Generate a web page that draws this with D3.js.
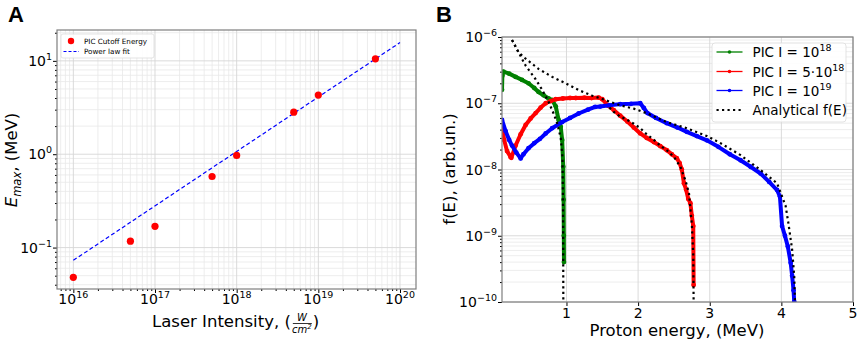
<!DOCTYPE html>
<html>
<head>
<meta charset="utf-8">
<script src="https://cdn.jsdelivr.net/npm/d3@7"></script>
<style>
  body { margin: 0; background: #fff; }
  svg { font-family: "DejaVu Sans", sans-serif; }
</style>
</head>
<body>
<svg id="chart" width="858" height="341"></svg>
<script>
// ---- panel A data ----
const intensity = [1e16, 5e16, 1e17, 5e17, 1e18, 5e18, 1e19, 5e19];
const emax = [0.048, 0.117, 0.169, 0.577, 0.97, 2.82, 4.3, 10.5];
const fitX = [1e16, 1e20];
const fitY = [0.073, 15.7];
const aXTicks = [16, 17, 18, 19, 20];
const aYTicks = [-1, 0, 1];

// ---- panel B data ----
const greenE = [0.10, 0.105, 0.12, 0.20, 0.29, 0.38, 0.47, 0.55, 0.61, 0.68, 0.75, 0.80, 0.85, 0.89, 0.92, 0.94, 0.955, 0.96, 0.963, 0.965];
const greenF = [1.6e-7, 2.6e-7, 3.0e-7, 2.8e-7, 2.5e-7, 2.25e-7, 2.0e-7, 1.7e-7, 1.48e-7, 1.32e-7, 1.18e-7, 1.12e-7, 9.0e-8, 5.6e-8, 4.4e-8, 2.8e-8, 1.1e-8, 3.5e-9, 1.0e-9, 4.0e-10];

const redE = [0.10, 0.13, 0.17, 0.22, 0.23, 0.29, 0.36, 0.43, 0.50, 0.57, 0.64, 0.71, 0.78, 0.85, 0.95, 1.05, 1.13, 1.25, 1.35, 1.45, 1.50, 1.58, 1.66, 1.75, 1.85, 1.94, 2.03, 2.12, 2.22, 2.31, 2.40, 2.47, 2.54, 2.58, 2.61, 2.64, 2.67, 2.70, 2.73, 2.75, 2.77, 2.775];
const redF = [4.4e-8, 2.8e-8, 1.9e-8, 1.55e-8, 1.5e-8, 2.3e-8, 3.4e-8, 4.7e-8, 5.9e-8, 7.1e-8, 8.6e-8, 1.0e-7, 1.08e-7, 1.15e-7, 1.18e-7, 1.2e-7, 1.2e-7, 1.21e-7, 1.2e-7, 1.22e-7, 1.15e-7, 9.2e-8, 7.9e-8, 6.5e-8, 5.3e-8, 4.3e-8, 3.5e-8, 3.0e-8, 2.6e-8, 2.25e-8, 1.96e-8, 1.7e-8, 1.48e-8, 1.25e-8, 1.0e-8, 6.2e-9, 5.0e-9, 3.6e-9, 3.1e-9, 2.0e-9, 1.4e-9, 1.8e-10];

const blueE = [0.10, 0.15, 0.20, 0.24, 0.30, 0.36, 0.40, 0.47, 0.55, 0.63, 0.71, 0.80, 0.94, 1.05, 1.17, 1.30, 1.40, 1.47, 1.60, 1.75, 1.90, 2.03, 2.08, 2.13, 2.25, 2.40, 2.55, 2.68, 2.82, 2.96, 3.12, 3.28, 3.43, 3.57, 3.71, 3.83, 3.94, 3.98, 4.01, 4.05, 4.09, 4.13, 4.15, 4.17, 4.18];
const blueF = [5.6e-8, 3.8e-8, 2.8e-8, 2.3e-8, 1.8e-8, 1.47e-8, 1.7e-8, 2.1e-8, 2.5e-8, 2.9e-8, 3.5e-8, 4.2e-8, 5.2e-8, 6.0e-8, 7.0e-8, 8.0e-8, 8.8e-8, 8.9e-8, 9.3e-8, 9.7e-8, 9.8e-8, 1.0e-7, 8.5e-8, 7.1e-8, 6.0e-8, 5.0e-8, 4.3e-8, 3.7e-8, 3.2e-8, 2.76e-8, 2.2e-8, 1.7e-8, 1.38e-8, 1.1e-8, 8.7e-9, 6.5e-9, 4.9e-9, 3.9e-9, 1.4e-9, 1.0e-9, 6.9e-10, 3.9e-10, 2.5e-10, 1.5e-10, 1.0e-10];

const anaE1 = [0.24, 0.33, 0.43, 0.57, 0.66, 0.75, 0.82, 0.87, 0.92, 0.945, 0.952, 0.955, 0.956];
const anaF1 = [9.0e-7, 5.9e-7, 3.7e-7, 2.3e-7, 1.6e-7, 1.05e-7, 7.0e-8, 5.0e-8, 3.0e-8, 1.5e-8, 3e-9, 3e-10, 1e-10];
const anaE2 = [1.60, 1.66, 1.75, 1.85, 1.94, 2.03, 2.12, 2.22, 2.31, 2.40, 2.50, 2.59, 2.66, 2.71, 2.75, 2.77, 2.775];
const anaF2 = [8.6e-8, 7.4e-8, 6.3e-8, 5.6e-8, 4.9e-8, 4.2e-8, 3.4e-8, 2.8e-8, 2.3e-8, 1.95e-8, 1.55e-8, 1.1e-8, 6.9e-9, 4.4e-9, 1.5e-9, 5e-10, 1e-10];
const anaE3 = [0.24, 0.33, 0.43, 0.61, 0.80, 0.99, 1.17, 1.36, 1.54, 1.61, 1.75, 1.94, 2.13, 2.40, 2.68, 2.96, 3.15, 3.43, 3.71, 3.94, 4.06, 4.10, 4.15, 4.18, 4.19];
const anaF3 = [9.0e-7, 5.9e-7, 4.7e-7, 3.3e-7, 2.5e-7, 2.0e-7, 1.58e-7, 1.3e-7, 1.12e-7, 1.05e-7, 9.3e-8, 8.3e-8, 7.0e-8, 5.2e-8, 4.2e-8, 3.2e-8, 2.5e-8, 1.65e-8, 9.8e-9, 6.2e-9, 2.8e-9, 1.5e-9, 6.2e-10, 2.4e-10, 1e-10];

const bXTicks = [1, 2, 3, 4, 5];
const bYTicks = [-10, -9, -8, -7, -6];

const svg = d3.select("#chart");
const gridMajor = "#d6d6d6";
const gridMinor = "#e8e8e8";

function minorLogs(lo, hi){
    const out = [];
    for (let e = Math.floor(Math.log10(lo)) - 1; e <= Math.ceil(Math.log10(hi)); e++){
        for (let m = 2; m <= 9; m++){
            const v = m * Math.pow(10, e);
            if (v >= lo && v <= hi) out.push(v);
        }
    }
    return out;
}

function supLabel(g, x, y, exp, anchor){
    const t = g.append("text")
        .attr("x", x).attr("y", y)
        .attr("text-anchor", anchor)
        .attr("font-size", 14)
        .attr("fill", "#000");
    t.append("tspan").text("10");
    t.append("tspan").attr("font-size", 9.5).attr("dy", -6).text(exp < 0 ? "\u2212" + (-exp) : exp);
    return t;
}

// ================= Panel A =================
const A = {l: 57, r: 416, t: 30, b: 289};
const ax = d3.scaleLog([Math.pow(10, 15.8), Math.pow(10, 20.196)], [A.l, A.r]);
const ay = d3.scaleLog([0.036, 21.4], [A.b, A.t]);
const gA = svg.append("g");

gA.append("defs").append("clipPath").attr("id", "clipA")
    .append("rect").attr("x", A.l).attr("y", A.t).attr("width", A.r - A.l).attr("height", A.b - A.t);

const aXMinor = minorLogs(ax.domain()[0], ax.domain()[1]);
const aYMinor = minorLogs(ay.domain()[0], ay.domain()[1]);
const aXMajor = aXTicks.map(e => Math.pow(10, e));
const aYMajor = aYTicks.map(e => Math.pow(10, e));

gA.selectAll(".gxm").data(aXMinor).enter().append("line")
    .attr("x1", d => ax(d)).attr("x2", d => ax(d)).attr("y1", A.t).attr("y2", A.b)
    .attr("stroke", gridMinor).attr("stroke-width", 0.8);
gA.selectAll(".gym").data(aYMinor).enter().append("line")
    .attr("y1", d => ay(d)).attr("y2", d => ay(d)).attr("x1", A.l).attr("x2", A.r)
    .attr("stroke", gridMinor).attr("stroke-width", 0.8);
gA.selectAll(".gxM").data(aXMajor).enter().append("line")
    .attr("x1", d => ax(d)).attr("x2", d => ax(d)).attr("y1", A.t).attr("y2", A.b)
    .attr("stroke", gridMajor).attr("stroke-width", 0.9);
gA.selectAll(".gyM").data(aYMajor).enter().append("line")
    .attr("y1", d => ay(d)).attr("y2", d => ay(d)).attr("x1", A.l).attr("x2", A.r)
    .attr("stroke", gridMajor).attr("stroke-width", 0.9);

// axes ticks
gA.append("g").attr("transform", `translate(0,${A.b})`)
    .call(d3.axisBottom(ax).tickValues(aXMajor).tickFormat("").tickSize(4).tickSizeOuter(0))
    .call(g => g.select(".domain").remove());
gA.append("g").attr("transform", `translate(0,${A.b})`)
    .call(d3.axisBottom(ax).tickValues(aXMinor).tickFormat("").tickSize(2).tickSizeOuter(0))
    .call(g => g.select(".domain").remove());
gA.append("g").attr("transform", `translate(${A.l},0)`)
    .call(d3.axisLeft(ay).tickValues(aYMajor).tickFormat("").tickSize(4).tickSizeOuter(0))
    .call(g => g.select(".domain").remove());
gA.append("g").attr("transform", `translate(${A.l},0)`)
    .call(d3.axisLeft(ay).tickValues(aYMinor).tickFormat("").tickSize(2).tickSizeOuter(0))
    .call(g => g.select(".domain").remove());

aXTicks.forEach(e => supLabel(gA, ax(Math.pow(10, e)), 304, e, "middle"));
aYTicks.forEach(e => supLabel(gA, A.l - 5, ay(Math.pow(10, e)) + 5, e, "end"));

// fit line
gA.append("path")
    .datum(fitX.map((x, i) => ({x, y: fitY[i]})))
    .attr("d", d3.line().x(d => ax(d.x)).y(d => ay(d.y)))
    .attr("fill", "none").attr("stroke", "#0000ff").attr("stroke-width", 1.2)
    .attr("stroke-dasharray", "4,2.5");

gA.selectAll(".pt").data(intensity).enter().append("circle")
    .attr("cx", d => ax(d)).attr("cy", (d, i) => ay(emax[i]))
    .attr("r", 3.6).attr("fill", "#ff0000");

gA.append("rect").attr("x", A.l).attr("y", A.t).attr("width", A.r - A.l).attr("height", A.b - A.t)
    .attr("fill", "none").attr("stroke", "#7f7f7f").attr("stroke-width", 1.2);

// legend A
const lgA = gA.append("g");
lgA.append("rect").attr("x", 61).attr("y", 34).attr("width", 93).attr("height", 24).attr("rx", 2)
    .attr("fill", "#fff").attr("fill-opacity", 0.85).attr("stroke", "#dcdcdc").attr("stroke-width", 0.8);
lgA.append("circle").attr("cx", 71).attr("cy", 41).attr("r", 3.2).attr("fill", "#ff0000");
lgA.append("text").attr("x", 84).attr("y", 43.5).attr("font-size", 7.2).text("PIC Cutoff Energy");
lgA.append("line").attr("x1", 63.5).attr("x2", 79).attr("y1", 51.5).attr("y2", 51.5)
    .attr("stroke", "#0000ff").attr("stroke-width", 1.2).attr("stroke-dasharray", "3,2");
lgA.append("text").attr("x", 84).attr("y", 54).attr("font-size", 7.2).text("Power law fit");

// axis labels A
const ylA = gA.append("text").attr("transform", "translate(17,160) rotate(-90)")
    .attr("text-anchor", "middle").attr("font-size", 16.5);
ylA.append("tspan").attr("font-style", "italic").text("E");
ylA.append("tspan").attr("font-style", "italic").attr("font-size", 11.5).attr("dy", 4).text("max");
ylA.append("tspan").attr("dy", -4).text(", (MeV)");

const xlA = gA.append("text").attr("x", 152).attr("y", 327).attr("font-size", 16.5).text("Laser Intensity, (");
const xlW = xlA.node().getComputedTextLength();
const fx = 152 + xlW + 1;
gA.append("text").attr("x", fx + 10).attr("y", 321).attr("text-anchor", "middle")
    .attr("font-size", 10).attr("font-style", "italic").text("W");
gA.append("line").attr("x1", fx + 1).attr("x2", fx + 20).attr("y1", 323.5).attr("y2", 323.5)
    .attr("stroke", "#000").attr("stroke-width", 0.8);
const cmT = gA.append("text").attr("x", fx + 10).attr("y", 333).attr("text-anchor", "middle")
    .attr("font-size", 10).attr("font-style", "italic");
cmT.append("tspan").text("cm");
cmT.append("tspan").attr("font-size", 7).attr("dy", -4).text("2");
gA.append("text").attr("x", fx + 21).attr("y", 327).attr("font-size", 16.5).text(")");

svg.append("text").attr("x", 8).attr("y", 22).attr("font-family", "Liberation Sans, Arial, sans-serif")
    .attr("font-weight", "bold").attr("font-size", 22).text("A");

// ================= Panel B =================
const B = {l: 502, r: 853, t: 37, b: 302};
const bx = d3.scaleLinear([0.1, 5], [B.l, B.r]);
const by = d3.scaleLog([1e-10, 1e-6], [B.b, B.t]);
const gB = svg.append("g");

gB.append("defs").append("clipPath").attr("id", "clipB")
    .append("rect").attr("x", B.l).attr("y", B.t).attr("width", B.r - B.l).attr("height", B.b - B.t);

const bYMinor = minorLogs(1e-10, 1e-6);
const bYMajor = bYTicks.map(e => Math.pow(10, e));

gB.selectAll(".gym").data(bYMinor).enter().append("line")
    .attr("y1", d => by(d)).attr("y2", d => by(d)).attr("x1", B.l).attr("x2", B.r)
    .attr("stroke", gridMinor).attr("stroke-width", 0.8);
gB.selectAll(".gyM").data(bYMajor).enter().append("line")
    .attr("y1", d => by(d)).attr("y2", d => by(d)).attr("x1", B.l).attr("x2", B.r)
    .attr("stroke", gridMajor).attr("stroke-width", 0.9);
gB.selectAll(".gxM").data(bXTicks).enter().append("line")
    .attr("x1", d => bx(d)).attr("x2", d => bx(d)).attr("y1", B.t).attr("y2", B.b)
    .attr("stroke", gridMajor).attr("stroke-width", 0.9);

gB.append("g").attr("transform", `translate(0,${B.b})`)
    .call(d3.axisBottom(bx).tickValues(bXTicks).tickFormat("").tickSize(4).tickSizeOuter(0))
    .call(g => g.select(".domain").remove());
gB.append("g").attr("transform", `translate(${B.l},0)`)
    .call(d3.axisLeft(by).tickValues(bYMajor).tickFormat("").tickSize(4).tickSizeOuter(0))
    .call(g => g.select(".domain").remove());
gB.append("g").attr("transform", `translate(${B.l},0)`)
    .call(d3.axisLeft(by).tickValues(bYMinor).tickFormat("").tickSize(2).tickSizeOuter(0))
    .call(g => g.select(".domain").remove());

bXTicks.forEach(v => gB.append("text").attr("x", bx(v)).attr("y", 318).attr("text-anchor", "middle")
    .attr("font-size", 14).text(v));
bYTicks.forEach(e => supLabel(gB, B.l - 5, by(Math.pow(10, e)) + 5, e, "end"));

const lineB = d3.line().x(d => bx(d.x)).y(d => by(d.y));
const pic = [
    {E: greenE, F: greenF, color: "#008000"},
    {E: redE, F: redF, color: "#ff0000"},
    {E: blueE, F: blueF, color: "#0000ff"}
];
const plotB = gB.append("g").attr("clip-path", "url(#clipB)");
pic.forEach(s => {
    const pts = s.E.map((x, i) => ({x, y: s.F[i]}));
    plotB.append("path").datum(pts).attr("d", lineB)
        .attr("fill", "none").attr("stroke", s.color).attr("stroke-width", 4)
        .attr("stroke-linejoin", "round").attr("stroke-linecap", "round");
    plotB.selectAll(null).data(pts).enter().append("circle")
        .attr("cx", d => bx(d.x)).attr("cy", d => by(d.y)).attr("r", 2.4).attr("fill", s.color);
});
[[anaE1, anaF1], [anaE2, anaF2], [anaE3, anaF3]].forEach(([E, F]) => {
    plotB.append("path").datum(E.map((x, i) => ({x, y: F[i]}))).attr("d", lineB)
        .attr("fill", "none").attr("stroke", "#000").attr("stroke-width", 2.2)
        .attr("stroke-dasharray", "2.2,3.3");
});

gB.append("rect").attr("x", B.l).attr("y", B.t).attr("width", B.r - B.l).attr("height", B.b - B.t)
    .attr("fill", "none").attr("stroke", "#7f7f7f").attr("stroke-width", 1.2);

// legend B
const lgB = gB.append("g");
lgB.append("rect").attr("x", 712).attr("y", 43).attr("width", 134).attr("height", 79).attr("rx", 3)
    .attr("fill", "#fff").attr("fill-opacity", 0.85).attr("stroke", "#dcdcdc").attr("stroke-width", 0.8);
const lgItems = [
    {y: 52, color: "#008000", pre: "PIC I = 10", sup: "18"},
    {y: 71.5, color: "#ff0000", pre: "PIC I = 5\u00b710", sup: "18"},
    {y: 90.5, color: "#0000ff", pre: "PIC I = 10", sup: "19"}
];
lgItems.forEach(it => {
    lgB.append("line").attr("x1", 716.5).attr("x2", 742.5).attr("y1", it.y).attr("y2", it.y)
        .attr("stroke", it.color).attr("stroke-width", 1.3);
    lgB.append("circle").attr("cx", 729.5).attr("cy", it.y).attr("r", 1.8).attr("fill", it.color);
    const t = lgB.append("text").attr("x", 752.5).attr("y", it.y + 5).attr("font-size", 13.5);
    t.append("tspan").text(it.pre);
    t.append("tspan").attr("font-size", 9.5).attr("dy", -6).text(it.sup);
});
lgB.append("line").attr("x1", 716.5).attr("x2", 742.5).attr("y1", 110).attr("y2", 110)
    .attr("stroke", "#000").attr("stroke-width", 2.2).attr("stroke-dasharray", "2.2,3.3");
lgB.append("text").attr("x", 752.5).attr("y", 115).attr("font-size", 13.5).text("Analytical f(E)");

gB.append("text").attr("x", 677).attr("y", 336).attr("text-anchor", "middle")
    .attr("font-size", 16.5).text("Proton energy, (MeV)");
gB.append("text").attr("transform", "translate(455,169) rotate(-90)").attr("text-anchor", "middle")
    .attr("font-size", 16.5).text("f(E), (arb.un.)");

svg.append("text").attr("x", 436).attr("y", 22).attr("font-family", "Liberation Sans, Arial, sans-serif")
    .attr("font-weight", "bold").attr("font-size", 22).text("B");
</script>
</body>
</html>
